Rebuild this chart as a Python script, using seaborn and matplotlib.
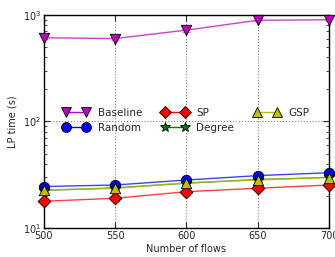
import matplotlib
matplotlib.use("Agg")
import matplotlib.pyplot as plt
from matplotlib.lines import Line2D
import seaborn as sns
import pandas as pd

flows = [500, 550, 600, 650, 700]
baseline = [610, 600, 720, 890, 900]
random_ = [24.5, 25.3, 28.2, 31.0, 33.0]
sp = [17.8, 19.0, 21.9, 23.6, 25.3]
degree = [22.5, 23.8, 26.3, 28.5, 29.8]
gsp = [22.8, 23.5, 26.6, 28.2, 29.7]
err_baseline = [20, 15, 25, 20, 20]
err_random = [1.2, 1.2, 1.3, 1.5, 1.5]
err_sp = [1.0, 1.0, 1.0, 1.1, 1.1]
err_degree = [1.0, 1.0, 1.0, 1.1, 1.1]
err_gsp = [1.0, 1.0, 1.0, 1.1, 1.1]

series = [
    ("Baseline", baseline, err_baseline, (0.75, 0, 0.75), "v", 7.5),
    ("Random", random_, err_random, (0, 0, 1), "o", 7.5),
    ("SP", sp, err_sp, (1, 0, 0), "D", 6.5),
    ("Degree", degree, err_degree, (0, 0.5, 0), "*", 8),
    ("GSP", gsp, err_gsp, (0.75, 0.75, 0), "^", 7.5),
]

sns.set_style("ticks")
plt.rcParams['font.family'] = ['DejaVu Sans']
fig = plt.figure(figsize=(3.35, 2.57), dpi=100)
ax = fig.add_axes([0.131, 0.113, 0.851, 0.829])

rows = []
for name, vals, errs, col, mk, ms in series:
    for f, v in zip(flows, vals):
        rows.append({"flows": f, "time": v, "method": name})
df = pd.DataFrame(rows)

handles = {}
for name, vals, errs, col, mk, ms in series:
    sub = df[df.method == name]
    sns.lineplot(data=sub, x="flows", y="time", ax=ax, color=col, alpha=0.75,
                 lw=1.0, legend=False, zorder=2)
    ax.errorbar(flows, vals, yerr=errs, fmt="none", ecolor=col, alpha=0.5,
                capsize=3, lw=1, zorder=2)
    ax.scatter(flows, vals, marker=mk, s=ms**2, color=col, edgecolor="black",
               linewidth=0.6, zorder=3, clip_on=False)
    handles[name] = Line2D([0], [0], color=col, alpha=1, lw=1, marker=mk,
                           markersize=ms * 0.95, markerfacecolor=col,
                           markeredgecolor="black", markeredgewidth=0.6)

ax.set_yscale("log")
ax.set_xlim(500, 700)
ax.set_ylim(10, 1000)
ax.set_xticks(flows)
ax.set_xticklabels([str(f) for f in flows])
ax.grid(True, which="major", ls=":", color="0.5", lw=0.8)
ax.tick_params(direction="in", which="both", top=True, right=True, labelsize=7, pad=2)
ax.tick_params(which="major", length=4)
ax.tick_params(which="minor", length=2)
for s in ax.spines.values():
    s.set_color("black")
    s.set_linewidth(1)
ax.set_xlabel("Number of flows", fontsize=7, labelpad=2)
ax.set_ylabel("LP time (s)", fontsize=7, labelpad=4)

order = ["Baseline", "Random", "SP", "Degree", "GSP"]
leg = ax.legend([handles[n] for n in order], order, ncol=3, frameon=False,
                fontsize=7.5, numpoints=2, handlelength=2.5, columnspacing=1.9,
                handletextpad=0.8, loc="center left", bbox_to_anchor=(0.035, 0.505),
                labelspacing=0.5)
fig.savefig("out.png", dpi=100)
